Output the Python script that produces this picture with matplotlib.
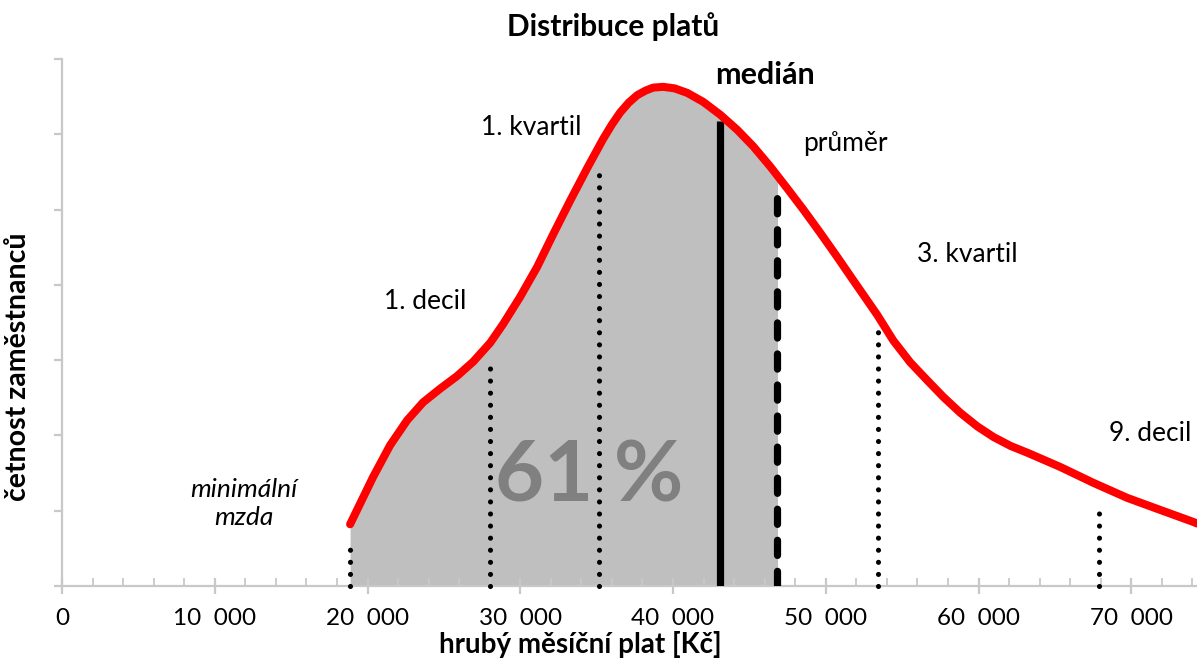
import matplotlib
matplotlib.use("Agg")
import matplotlib.pyplot as plt
from matplotlib.patches import Rectangle
from matplotlib.ticker import MultipleLocator, FixedLocator

plt.rcParams['font.family'] = ['Lato', 'DejaVu Sans']

# --- data ---
curve_x = [18860, 20370, 21480, 22590, 23640, 24750, 25870, 26920, 28030, 28880,
           29990, 31110, 32150, 33270, 34380, 35430, 36000, 36540, 37100, 37660,
           38200, 38700, 39360, 40100, 40930, 41980, 43090, 44200, 45250, 46370,
           47480, 48530, 49640, 50750, 51800, 53370, 54420, 55530, 56650, 57700,
           58810, 59920, 60970, 62100, 63200, 65360, 67520, 69740, 71900, 74070,
           74300]
curve_y = [0.82, 1.45, 1.87, 2.20, 2.44, 2.62, 2.79, 2.98, 3.23, 3.48,
           3.84, 4.24, 4.67, 5.12, 5.55, 5.94, 6.13, 6.29, 6.42, 6.52,
           6.58, 6.62, 6.63, 6.61, 6.55, 6.43, 6.26, 6.06, 5.84, 5.57,
           5.28, 5.00, 4.69, 4.37, 4.06, 3.60, 3.26, 2.97, 2.73, 2.51,
           2.30, 2.12, 1.98, 1.86, 1.77, 1.58, 1.37, 1.17, 1.01, 0.85,
           0.83]

min_wage = 18860
dotted_x = [18860, 28000, 35150, 53450, 67900]      # min. mzda, 1. decil, 1. kvartil, 3. kvartil, 9. decil
dotted_top = [0.64, 3.04, 5.58, 3.51, 1.12]
median_x, median_top = 43090, 6.18
mean_x, mean_top = 46800, 5.34

xticks = [0, 10000, 20000, 30000, 40000, 50000, 60000, 70000]
xtick_labels = ["0", "10  000", "20  000", "30  000", "40  000", "50  000", "60  000", "70  000"]

share_label = "61 %"

fig = plt.figure(figsize=(11.97, 6.62), dpi=100)
ax = fig.add_axes([62/1197, 76/662, (1197-62)/1197, (586-59)/662])
ax.set_xlim(0, 74300)
ax.set_ylim(0, 7)

# grey shaded area between minimum wage and mean
poly = ax.fill_between(curve_x, curve_y, 0, color='#bfbfbf', lw=0, zorder=1)
clip = Rectangle((min_wage, 0), mean_x - min_wage, 10, transform=ax.transData)
poly.set_clip_path(clip)

# vertical markers
for xv, top in zip(dotted_x, dotted_top):
    ax.plot([xv, xv], [0, top], color='black', lw=3.7, linestyle=(0, (0.001, 2.35)),
            dash_capstyle='round', zorder=3, clip_on=False)
ax.plot([median_x, median_x], [0, median_top], color='black', lw=5.2,
        solid_capstyle='butt', zorder=3)
ax.plot([mean_x, mean_x], [0, mean_top], color='black', lw=5.2,
        linestyle=(0, (2.1, 2.2)), dash_capstyle='round', zorder=3)

# red distribution curve
ax.plot(curve_x, curve_y, color='#ff0000', lw=5.8, solid_capstyle='round',
        solid_joinstyle='round', zorder=4)

# texts
ax.text(34510, 1.45, share_label, ha='center', va='center', fontsize=61,
        fontweight='bold', color='#808080', zorder=2)
ax.text(46040, 6.79, "medián", ha='center', va='center', fontsize=22, fontweight='bold')
lab_fs = 19
ax.text(30710, 6.09, "1. kvartil", ha='center', va='center', fontsize=lab_fs)
ax.text(51280, 5.88, "průměr", ha='center', va='center', fontsize=lab_fs)
ax.text(59270, 4.40, "3. kvartil", ha='center', va='center', fontsize=lab_fs)
ax.text(23770, 3.78, "1. decil", ha='center', va='center', fontsize=lab_fs)
ax.text(71250, 2.03, "9. decil", ha='center', va='center', fontsize=lab_fs)
ax.text(11920, 1.10, "minimální\nmzda", ha='center', va='center', fontsize=lab_fs,
        style='italic', linespacing=1.25)

# axes styling
for s in ['top', 'right']:
    ax.spines[s].set_visible(False)
for s in ['left', 'bottom']:
    ax.spines[s].set_color('#c8c8c8')
    ax.spines[s].set_linewidth(1.6)

ax.xaxis.set_major_locator(FixedLocator(xticks))
ax.set_xticklabels(xtick_labels, fontsize=17.5)
ax.xaxis.set_minor_locator(MultipleLocator(2000))
ax.tick_params(axis='x', which='major', direction='inout', length=12, width=1.6,
               color='#c8c8c8', pad=10)
ax.tick_params(axis='x', which='minor', direction='in', length=6, width=1.3,
               color='#c8c8c8')
ax.yaxis.set_major_locator(MultipleLocator(1))
ax.tick_params(axis='y', which='major', direction='out', length=6, width=1.6,
               color='#c8c8c8', labelleft=False)

ax.set_xlabel("hrubý měsíční plat [Kč]", fontsize=20, fontweight='bold')
ax.xaxis.set_label_coords((580 - 62) / 1135, -0.085)
ax.set_ylabel("četnost zaměstnanců", fontsize=20.5, fontweight='bold')
ax.yaxis.set_label_coords((31 - 62) / 1135, (586 - 367) / 527)
fig.suptitle("Distribuce platů", x=(507+720)/2/1197, y=1-27/662, va='center',
             fontsize=21.5, fontweight='bold')

fig.savefig("out.png", dpi=100)
